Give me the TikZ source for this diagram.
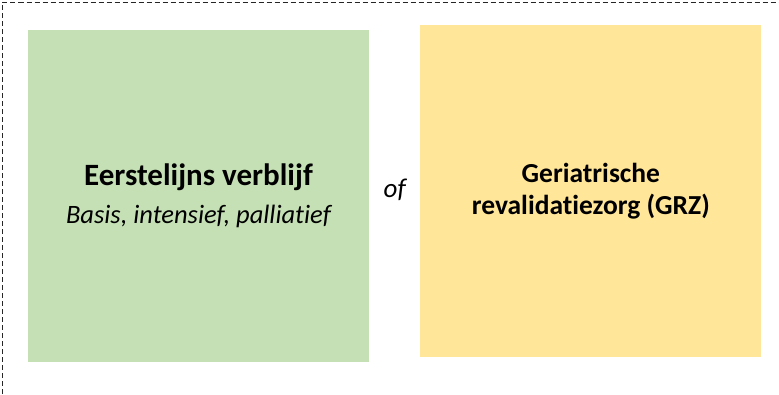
\documentclass[tikz,border=0pt]{standalone}
\usepackage{fontspec}
\setmainfont{Carlito}[Ligatures=CommonOff]
\usepackage{tikz}
\usetikzlibrary{positioning,calc}

\definecolor{groen}{HTML}{C5E0B4}
\definecolor{geel}{HTML}{FFE699}

\begin{document}
\begin{tikzpicture}[x=1pt, y=-1pt,
    zorgblok/.style={minimum width=341pt, minimum height=332pt, inner sep=0pt, align=center},
    node distance=51pt]
                \useasboundingbox (0,0) rectangle (779,394);
                \node[zorgblok, fill=groen, font=\fontsize{31}{38}\selectfont] (verblijf) at (198.5,196)
                {\textbf{Eerstelijns verblijf}\\{\fontsize{26.5}{38}\selectfont\itshape Basis, intensief, palliatief}};
                \node[zorgblok, fill=geel, yshift=5pt, font=\fontsize{27.5}{32}\selectfont] (grz) [right=of verblijf]
                {\textbf{Geriatrische}\\\textbf{revalidatiezorg (GRZ)}};
                \node[font=\fontsize{27}{30}\selectfont\itshape, yshift=4pt] (of) at ($(verblijf.east)!0.5!(grz.west)$) {of};
                \draw[black!85, line width=0.9pt, dash pattern=on 5pt off 3pt] (2,394) -- (2,2.5) -- (779,2.5);
            \end{tikzpicture}
\end{document}
